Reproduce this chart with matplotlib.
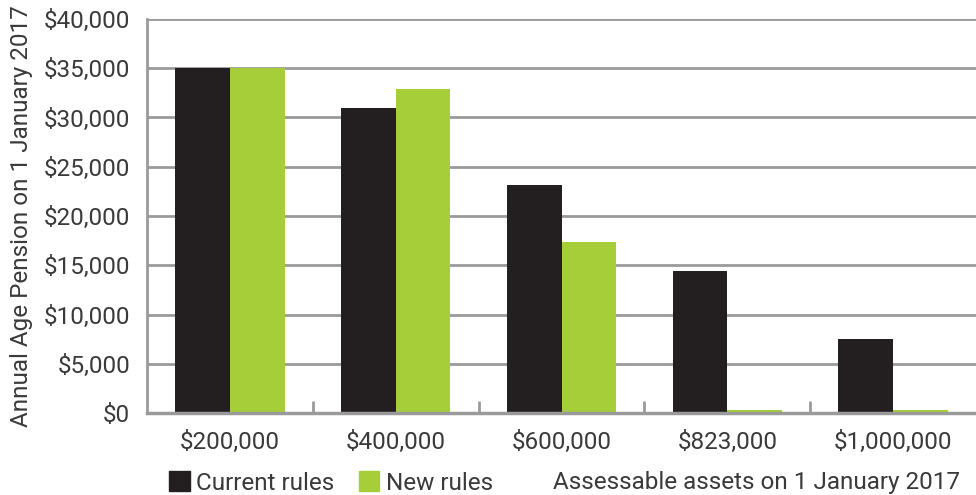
import numpy as np
import matplotlib
matplotlib.use("Agg")
import matplotlib.pyplot as plt
from matplotlib.patches import Patch
from matplotlib.ticker import FuncFormatter, FixedLocator

# data
categories = ["$200,000", "$400,000", "$600,000", "$823,000", "$1,000,000"]
current_rules = [35000, 31000, 23100, 14400, 7500]
new_rules = [35000, 32900, 17400, 300, 300]

black = "#231f20"
green = "#a6ce39"
grey = "#9a9a9a"
text_col = "#3a3a3a"
fs = 17.5

plt.rcParams["font.family"] = ["Roboto", "DejaVu Sans"]
plt.rcParams["font.weight"] = "normal"

fig = plt.figure(figsize=(9.76, 4.95), dpi=100)
ax = fig.add_axes([147 / 976, (495 - 413) / 495, (976 - 147) / 976, 394 / 495])

x = np.arange(len(categories))
w = 0.33
ax.bar(x - w / 2, current_rules, w, color=black, zorder=3)
ax.bar(x + w / 2, new_rules, w, color=green, zorder=3)

ax.set_xlim(-0.5, len(categories) - 0.5)
ax.set_ylim(0, 40000)
ax.set_yticks(np.arange(0, 40001, 5000))
ax.yaxis.set_major_formatter(FuncFormatter(lambda v, p: f"${v:,.0f}"))
ax.yaxis.grid(True, color=grey, linewidth=2, zorder=0)
ax.tick_params(axis="y", length=0, pad=12, labelsize=fs, labelcolor=text_col)

ax.set_xticks(x)
ax.set_xticklabels(categories)
ax.xaxis.set_minor_locator(FixedLocator(np.arange(0.5, len(categories) - 1, 1)))
ax.tick_params(axis="x", which="major", length=0, pad=13, labelsize=fs, labelcolor=text_col)
ax.tick_params(axis="x", which="minor", direction="in", length=9, width=2, color=grey)

for s in ["top", "right"]:
    ax.spines[s].set_visible(False)
ax.spines["left"].set_color(grey)
ax.spines["left"].set_linewidth(2)
ax.spines["bottom"].set_color(grey)
ax.spines["bottom"].set_linewidth(2.5)
ax.spines["bottom"].set_zorder(4)

fig.text(22 / 976, (495 - 216) / 495, "Annual Age Pension on 1 January 2017",
         rotation=90, ha="center", va="center", fontsize=fs, color=text_col)

handles = [Patch(color=black, label="Current rules"), Patch(color=green, label="New rules")]
fig.legend(handles=handles, loc="center left", bbox_to_anchor=(169 / 976, 12 / 495),
           ncol=2, frameon=False, fontsize=fs, handlelength=0.86, handleheight=0.86,
           handletextpad=0.25, columnspacing=1.0, borderpad=0, borderaxespad=0,
           labelcolor=text_col)

fig.text(553 / 976, 13 / 495, "Assessable assets on 1 January 2017",
         ha="left", va="center", fontsize=fs, color=text_col)

fig.savefig("out.png", dpi=100)
